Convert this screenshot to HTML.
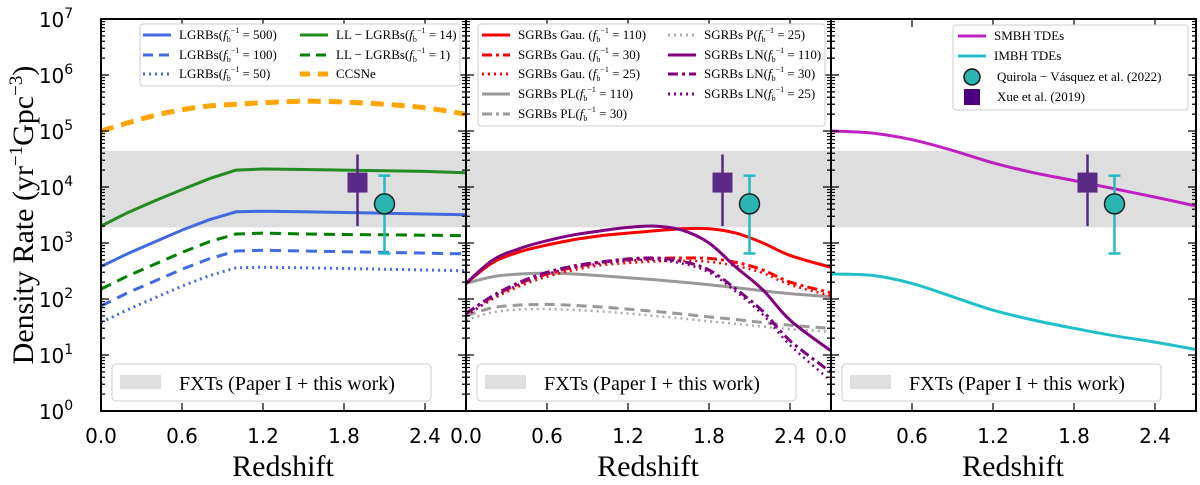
<!DOCTYPE html>
<html><head><meta charset="utf-8"><style>
html,body{margin:0;padding:0;background:#fff;width:1200px;height:485px;overflow:hidden}
text{font-family:"Liberation Serif","DejaVu Serif",serif}
text.tk{font-family:"DejaVu Sans","Liberation Sans",sans-serif}
</style></head><body>
<svg id="c" width="1200" height="485" xmlns="http://www.w3.org/2000/svg" font-family="Liberation Serif, DejaVu Serif, serif"></svg>
<script>
const zP1=[0,0.2,0.4,0.6,0.8,1.0,1.2,1.5,1.8,2.1,2.4,2.7];
const ccsne=[1e5,1.4e5,1.9e5,2.4e5,2.8e5,3.0e5,3.2e5,3.4e5,3.3e5,3.0e5,2.6e5,2.0e5];
const ll14=[2e3,3.5e3,5.7e3,9e3,1.4e4,2.0e4,2.1e4,2.05e4,2.0e4,1.95e4,1.9e4,1.8e4];
const lg500=[380,650,1050,1700,2600,3600,3700,3600,3500,3400,3300,3200];
const ll1=[150,260,420,680,1050,1450,1500,1450,1420,1400,1380,1350];
const lg100=[75,130,210,340,520,720,740,720,700,680,660,640];
const lg50=[38,65,105,170,260,360,370,360,350,340,330,320];
const zP2=[0,0.2,0.4,0.6,0.8,1.0,1.2,1.4,1.6,1.8,2.0,2.2,2.4,2.7];
const gau110=[190,450,700,920,1150,1350,1500,1650,1800,1800,1500,1000,600,370];
const ln110=[190,500,800,1100,1400,1650,1900,2000,1700,1000,370,145,42,12];
const gau30=[55,110,190,280,370,450,500,530,540,530,450,330,200,130];
const gau25=[50,100,170,250,330,400,440,470,480,460,390,290,180,115];
const ln30=[55,115,200,300,390,460,520,540,470,330,150,60,18,5];
const ln25=[50,105,185,280,360,430,480,500,430,300,135,52,15,3.5];
const pl110=[190,250,280,290,280,260,240,220,200,180,160,140,125,110];
const pl30=[50,70,78,80,77,72,66,60,54,48,43,38,34,30];
const p25=[42,58,65,66,64,60,55,50,45,40,36,32,29,26];
const zP3=[0,0.3,0.6,0.9,1.2,1.5,1.8,2.1,2.4,2.7];
const smbh=[1e5,9.2e4,7e4,4.5e4,2.7e4,1.8e4,1.3e4,9.3e3,6.6e3,4.6e3];
const imbh=[280,265,190,110,63,42,30,22,17,12.6];
const band=[1.9e3,4.4e4];
const xueZ=1.9, xueV=1.2e4, xueLo=2e3, xueHi=3.8e4;
const quiZ=2.1, quiV=5e3, quiLo=650, quiHi=1.6e4;
const xTicks=[0,0.6,1.2,1.8,2.4];
const yTicks=[0,1,2,3,4,5,6,7];

const svg=document.getElementById('c');
const NS='http://www.w3.org/2000/svg';
const SERIF='Liberation Serif, DejaVu Serif, serif';
const SANS='DejaVu Sans, Liberation Sans, sans-serif';
function mk(tag,attrs,parent){const e=document.createElementNS(NS,tag);for(const k in attrs)e.setAttribute(k,attrs[k]);(parent||svg).appendChild(e);return e;}
const TOP=19,BOT=411,DEC=56,XS=135;
function Y(v){return BOT-DEC*Math.log10(v);}
const lefts=[101,466,831];
function X(p,z){return lefts[p]+XS*z;}

function panel(p){
  const g=mk('g',{});
  
  
  const L=lefts[p],R=L+365;
  const cp=mk('clipPath',{id:'cp'+p},g);mk('rect',{x:L,y:TOP,width:365,height:BOT-TOP},cp);
  const b=mk('rect',{x:L,y:Y(band[1]),width:365,height:Y(band[0])-Y(band[1]),fill:'#dedede'},g);
  
  return {g,L,R};
}
function line(p,g,zs,vs,col,w,dash,name,smooth){
  const pts=zs.map((z,i)=>[X(p,z),Y(vs[i])]);
  let d='M'+pts[0][0].toFixed(1)+','+pts[0][1].toFixed(1);
  for(let i=0;i<pts.length-1;i++){
    if(!smooth){d+='L'+pts[i+1][0].toFixed(1)+','+pts[i+1][1].toFixed(1);continue;}
    const p0=pts[Math.max(0,i-1)],p1=pts[i],p2=pts[i+1],p3=pts[Math.min(pts.length-1,i+2)];
    const c1=[p1[0]+(p2[0]-p0[0])/6,p1[1]+(p2[1]-p0[1])/6];
    const c2=[p2[0]-(p3[0]-p1[0])/6,p2[1]-(p3[1]-p1[1])/6];
    d+=`C${c1[0].toFixed(1)},${c1[1].toFixed(1)} ${c2[0].toFixed(1)},${c2[1].toFixed(1)} ${p2[0].toFixed(1)},${p2[1].toFixed(1)}`;
  }
  const e=mk('path',{d,fill:'none',stroke:col,'stroke-width':w,'clip-path':'url(#cp'+p+')','stroke-linejoin':'round'},g);
  if(dash)e.setAttribute('stroke-dasharray',dash);
  
  
}
function points(p,g){
  const ex=X(p,xueZ);
  const e1=mk('line',{x1:ex,x2:ex,y1:Y(xueHi),y2:Y(xueLo),stroke:'#55287f','stroke-width':2.5},g);
  
  const s=mk('rect',{x:ex-10,y:Y(xueV)-10,width:20,height:20,fill:'#5b2a86'},g);
  
  const qx=X(p,quiZ);
  const e2=mk('path',{d:`M${qx},${Y(quiHi)}V${Y(quiLo)}M${qx-6},${Y(quiHi)}h12M${qx-6},${Y(quiLo)}h12`,stroke:'#22bcc4','stroke-width':2.5,fill:'none'},g);
  
  const c=mk('circle',{cx:qx,cy:Y(quiV),r:10,fill:'#2ab5b0',stroke:'#222','stroke-width':1.5},g);
  
}
function axes(p,g,L,R){
  mk('rect',{x:L,y:TOP,width:365,height:BOT-TOP,fill:'none',stroke:'#000','stroke-width':2},g);
  let d='';
  yTicks.forEach(t=>{const y=Y(Math.pow(10,t));d+=`M${L},${y}h8M${R},${y}h-8`;
    if(t<7)for(let m=2;m<10;m++){const ym=Y(m*Math.pow(10,t));d+=`M${L},${ym}h4M${R},${ym}h-4`;}});
  xTicks.forEach(t=>{const x=X(p,t);d+=`M${x},${BOT}v-8M${x},${TOP}v8`;});
  mk('path',{d,stroke:'#000','stroke-width':1.2,fill:'none'},g);
  xTicks.forEach(t=>{const tx=mk('text',{x:X(p,t),y:443,'text-anchor':'middle',class:'tk','font-family':SANS,'font-size':20},g);tx.textContent=t.toFixed(1);
    });
  const xt=mk('text',{x:L+182,y:476,'text-anchor':'middle','font-size':30,'font-family':SERIF},g);xt.textContent='Redshift';
  
  const lg=mk('g',{},g);
  mk('rect',{x:L+11,y:364,width:319,height:37,rx:4,fill:'#fff',stroke:'#ccc','stroke-width':1},lg);
  mk('rect',{x:L+19,y:375,width:41,height:14,fill:'#dedede'},lg);
  const lt=mk('text',{x:L+78,y:390,'font-size':20,'font-family':SERIF},lg);lt.textContent='FXTs (Paper I + this work)';
}
function legBox(g,x,y,w,h){mk('rect',{x,y,width:w,height:h,rx:3,fill:'#fff',stroke:'#ccc','stroke-width':1},g);}
function legEntry(g,x,y,col,dash,w,label,sub){
  const l=mk('line',{x1:x,x2:x+28,y1:y,y2:y,stroke:col,'stroke-width':w},g);
  if(dash)l.setAttribute('stroke-dasharray',dash);
  const t=mk('text',{x:x+36,y:y+4,'font-size':13,'font-family':SERIF},g);
  
  if(sub){const a=mk('tspan',{},t);a.textContent=label+'(';
    const f=mk('tspan',{'font-style':'italic'},t);f.textContent='f';
    const b=mk('tspan',{dy:3,'font-size':8},t);b.textContent='b';
    const c=mk('tspan',{dy:-9,'font-size':8},t);c.textContent='−1';
    const d=mk('tspan',{dy:6},t);d.textContent=' = '+sub+')';}
  else t.textContent=label;
}

let P=panel(0);
line(0,P.g,zP1,ccsne,'#ffa500',5,'13,8','ccsne-line',true);
line(0,P.g,zP1,ll14,'#228b22',3,null,'ll-lgrb-14-line');
line(0,P.g,zP1,lg500,'#4169e1',3,null,'lgrb-500-line');
line(0,P.g,zP1,ll1,'#008000',3,'11,7','ll-lgrb-1-line');
line(0,P.g,zP1,lg100,'#4169e1',3,'11,7','lgrb-100-line');
line(0,P.g,zP1,lg50,'#4169e1',3,'2,4','lgrb-50-line');
points(0,P.g);axes(0,P.g,P.L,P.R);
let lg1=mk('g',{},P.g);
legBox(lg1,140,24,320,62);
legEntry(lg1,143,35,'#4169e1',null,3,'LGRBs','500');
legEntry(lg1,143,55,'#4169e1','10,6',3,'LGRBs','100');
legEntry(lg1,143,74,'#4169e1','2,4',3,'LGRBs','50');
legEntry(lg1,300,35,'#228b22',null,3,'LL − LGRBs','14');
legEntry(lg1,300,55,'#008000','10,6',3,'LL − LGRBs','1');
legEntry(lg1,300,74,'#ffa500','10,8',5,'CCSNe');

P=panel(1);
line(1,P.g,zP2,p25,'#aaa',2.5,'2,4','sgrb-p-25-line',true);
line(1,P.g,zP2,pl30,'#999',3,'10,6','sgrb-pl-30-line',true);
line(1,P.g,zP2,pl110,'#999',3,null,'sgrb-pl-110-line',true);
line(1,P.g,zP2,gau25,'#ff0000',2.5,'2,4','sgrb-gau-25-line',true);
line(1,P.g,zP2,gau30,'#ff0000',3,'10,4,3,4','sgrb-gau-30-line',true);
line(1,P.g,zP2,ln25,'#800080',2.5,'2,4','sgrb-ln-25-line',true);
line(1,P.g,zP2,ln30,'#800080',3,'10,4,3,4','sgrb-ln-30-line',true);
line(1,P.g,zP2,gau110,'#ff0000',3,null,'sgrb-gau-110-line',true);
line(1,P.g,zP2,ln110,'#800080',3,null,'sgrb-ln-110-line',true);
points(1,P.g);axes(1,P.g,P.L,P.R);
let lg2=mk('g',{},P.g);
legBox(lg2,478,24,347,102);
legEntry(lg2,482,35,'#ff0000',null,3,'SGRBs Gau. ','110');
legEntry(lg2,482,55,'#ff0000','10,4,3,4',3,'SGRBs Gau. ','30');
legEntry(lg2,482,74,'#ff0000','2,4',3,'SGRBs Gau. ','25');
legEntry(lg2,482,94,'#999',null,3,'SGRBs PL','110');
legEntry(lg2,482,114,'#999','10,4,3,4',3,'SGRBs PL','30');
legEntry(lg2,668,35,'#aaa','2,4',3,'SGRBs P','25');
legEntry(lg2,668,55,'#800080',null,3,'SGRBs LN','110');
legEntry(lg2,668,74,'#800080','10,4,3,4',3,'SGRBs LN','30');
legEntry(lg2,668,94,'#800080','2,4',3,'SGRBs LN','25');

P=panel(2);
line(2,P.g,zP3,smbh,'#bf20c0',3,null,'smbh-tde-line',true);
line(2,P.g,zP3,imbh,'#20c0c8',3,null,'imbh-tde-line',true);
points(2,P.g);axes(2,P.g,P.L,P.R);
let lg3=mk('g',{},P.g);
legBox(lg3,953,25,235,85);
legEntry(lg3,958,36,'#bf20c0',null,3,'SMBH TDEs');
legEntry(lg3,958,56,'#20c0c8',null,3,'IMBH TDEs');
mk('circle',{cx:972,cy:77,r:8,fill:'#2ab5b0',stroke:'#111','stroke-width':1.5},lg3);
mk('rect',{x:964,y:89,width:16,height:16,fill:'#4b0082'},lg3);
let q=mk('text',{x:997,y:81,'font-size':13,'font-family':SERIF},lg3);q.textContent='Quirola − Vásquez et al.  (2022)';
let xx=mk('text',{x:997,y:101,'font-size':13,'font-family':SERIF},lg3);xx.textContent='Xue et al.  (2019)';

yTicks.forEach(t=>{const tx=mk('text',{x:56,y:Y(Math.pow(10,t))+8,'text-anchor':'middle',class:'tk','font-family':SANS,'font-size':20});
  
  const a=mk('tspan',{},tx);a.textContent='10';const b=mk('tspan',{dy:-9,'font-size':14},tx);b.textContent=String(t);});
const yt=mk('text',{x:0,y:0,'font-size':30,'text-anchor':'middle','font-family':SERIF,transform:'translate(33,215) rotate(-90)'});

const y1=mk('tspan',{},yt);y1.textContent='Density Rate (yr';
const y2=mk('tspan',{dy:-11,'font-size':19},yt);y2.textContent='−1';
const y3=mk('tspan',{dy:11},yt);y3.textContent='Gpc';
const y4=mk('tspan',{dy:-11,'font-size':19},yt);y4.textContent='−3';
const y5=mk('tspan',{dy:11},yt);y5.textContent=')';
</script>
</body></html>
